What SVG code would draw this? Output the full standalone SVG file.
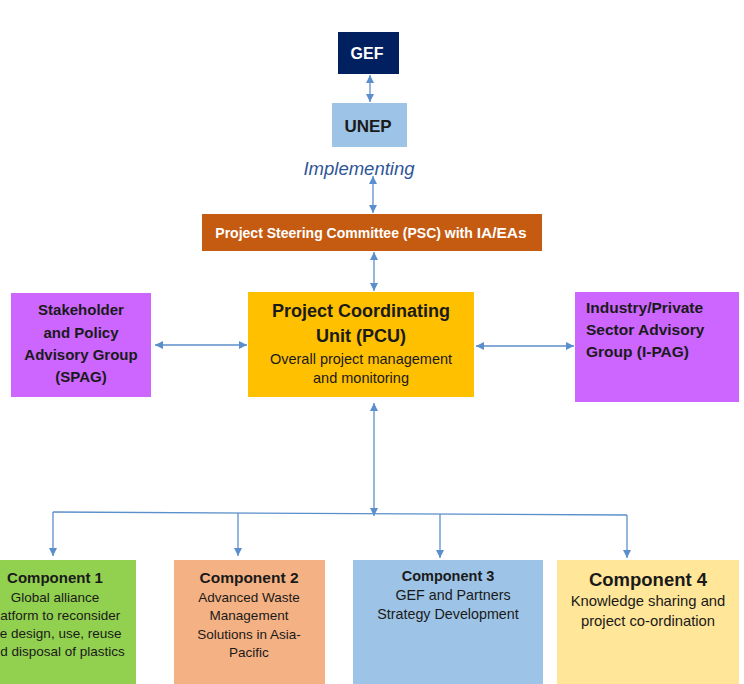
<svg xmlns="http://www.w3.org/2000/svg" width="744" height="684" viewBox="0 0 744 684">
<defs>
<marker id="ah" viewBox="0 0 10 10" refX="10" refY="5" markerUnits="userSpaceOnUse" markerWidth="9" markerHeight="8" orient="auto-start-reverse">
<path d="M0,0 L10,5 L0,10 z" fill="#5B8FCB"/>
</marker>
<style>
text{font-family:"Liberation Sans",Arial,sans-serif;}
.b{font-weight:bold;}
.c{text-anchor:middle;}
.conn line,.conn polyline{stroke:#5B8FCB;stroke-width:1.3;fill:none;}
.dk{fill:#1a1a1a;}
</style>
</defs>
<rect width="744" height="684" fill="#ffffff"/>

<g id="gef">
<rect x="338" y="32" width="61" height="42" fill="#002060"/>
<text x="367" y="59" class="b c" font-size="16" fill="#ffffff">GEF</text>
</g>
<g id="unep">
<rect x="332" y="103" width="75" height="44" fill="#9DC3E6"/>
<text x="368" y="132" class="b c dk" font-size="17">UNEP</text>
</g>
<text id="implementing" x="359" y="175" class="c" font-size="18.5" font-style="italic" fill="#2F5597">Implementing</text>
<g id="psc">
<rect x="202" y="214" width="340" height="37" fill="#C55A11"/>
<text x="371" y="238" class="b c" font-size="14" fill="#ffffff">Project Steering Committee (PSC) with <tspan font-size="15.5">IA/EAs</tspan></text>
</g>
<g id="pcu">
<rect x="248" y="292" width="226" height="105" fill="#FFC000"/>
<text x="361" y="317" class="b c dk" font-size="18">Project Coordinating</text>
<text x="361" y="342" class="b c dk" font-size="18">Unit (PCU)</text>
<text x="361" y="364" class="c dk" font-size="14.5">Overall project management</text>
<text x="361" y="383" class="c dk" font-size="14.5">and monitoring</text>
</g>
<g id="spag">
<rect x="11" y="293" width="140" height="104" fill="#CC66FF"/>
<text x="81" y="315" class="b c dk" font-size="15">Stakeholder</text>
<text x="81" y="338" class="b c dk" font-size="15">and Policy</text>
<text x="81" y="360" class="b c dk" font-size="15">Advisory Group</text>
<text x="81" y="382" class="b c dk" font-size="15">(SPAG)</text>
</g>
<g id="ipag">
<rect x="575" y="292" width="164" height="110" fill="#CC66FF"/>
<text x="586" y="313" class="b dk" font-size="15.5">Industry/Private</text>
<text x="586" y="335" class="b dk" font-size="15.5">Sector Advisory</text>
<text x="586" y="357" class="b dk" font-size="15.5">Group (I-PAG)</text>
</g>
<g id="comp1">
<rect x="-26" y="560" width="162" height="124" fill="#92D050"/>
<text x="55" y="583" class="b c dk" font-size="15">Component 1</text>
<text x="55" y="602" class="c dk" font-size="13.5">Global alliance</text>
<text x="55" y="620" class="c dk" font-size="13.5">platform to reconsider</text>
<text x="55" y="638" class="c dk" font-size="13.5">the design, use, reuse</text>
<text x="55" y="656" class="c dk" font-size="13.5">and disposal of plastics</text>
</g>
<g id="comp2">
<rect x="174" y="560" width="151" height="124" fill="#F4B183"/>
<text x="249" y="583" class="b c dk" font-size="15.5">Component 2</text>
<text x="249" y="602" class="c dk" font-size="13.5">Advanced Waste</text>
<text x="249" y="620" class="c dk" font-size="13.5">Management</text>
<text x="249" y="639" class="c dk" font-size="13.5">Solutions in Asia-</text>
<text x="249" y="657" class="c dk" font-size="13.5">Pacific</text>
</g>
<g id="comp3">
<rect x="353" y="560" width="190" height="124" fill="#9DC3E6"/>
<text x="448" y="581" class="b c dk" font-size="14.5">Component 3</text>
<text x="453" y="600" class="c dk" font-size="14.3">GEF and Partners</text>
<text x="448" y="619" class="c dk" font-size="14.3">Strategy Development</text>
</g>
<g id="comp4">
<rect x="557" y="560" width="182" height="124" fill="#FFE699"/>
<text x="648" y="586" class="b c dk" font-size="18.5">Component 4</text>
<text x="648" y="606" class="c dk" font-size="14.8">Knowledge sharing and</text>
<text x="648" y="626" class="c dk" font-size="14.8">project co-ordination</text>
</g>

<g id="connectors" class="conn">
<line x1="370" y1="75" x2="370" y2="102" marker-start="url(#ah)" marker-end="url(#ah)"/>
<line x1="373" y1="176" x2="373" y2="213" marker-start="url(#ah)" marker-end="url(#ah)"/>
<line x1="374" y1="252" x2="374" y2="291" marker-start="url(#ah)" marker-end="url(#ah)"/>
<line x1="155" y1="345" x2="247" y2="345" marker-start="url(#ah)" marker-end="url(#ah)"/>
<line x1="476" y1="346" x2="574" y2="346" marker-start="url(#ah)" marker-end="url(#ah)"/>
<line x1="374" y1="403" x2="374" y2="516" marker-start="url(#ah)" marker-end="url(#ah)"/>
<line x1="53" y1="512" x2="627" y2="515"/>
<line x1="53" y1="512" x2="53" y2="556" marker-end="url(#ah)"/>
<line x1="238" y1="513" x2="238" y2="556" marker-end="url(#ah)"/>
<line x1="440" y1="514" x2="440" y2="558" marker-end="url(#ah)"/>
<line x1="627" y1="515" x2="627" y2="558" marker-end="url(#ah)"/>
</g>
</svg>
